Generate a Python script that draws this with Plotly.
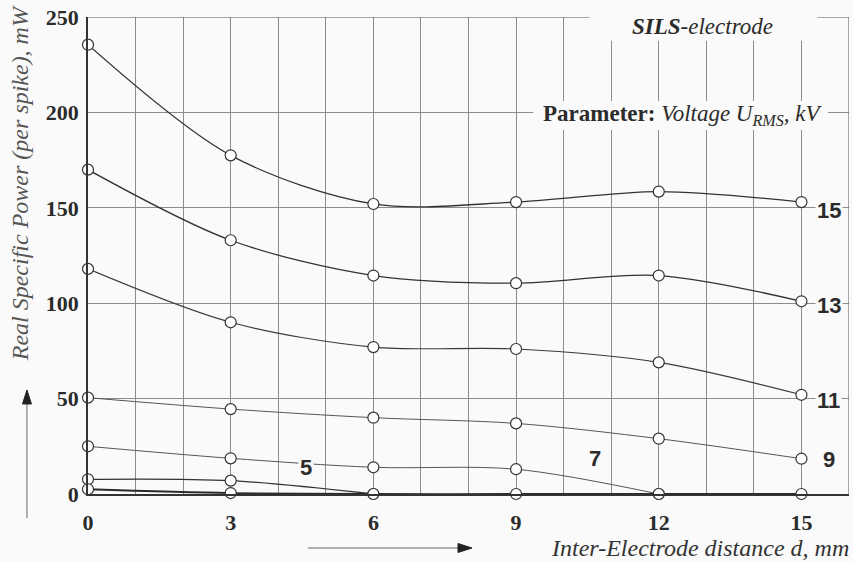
import plotly.graph_objects as go

# Inter-electrode distance d, mm
distance = [0, 3, 6, 9, 12, 15]

# Real specific power per spike (mW) for each RMS voltage (kV)
p_15kv = [235.5, 177.5, 152, 153, 158.5, 153]
p_13kv = [170, 133, 114.5, 110.5, 114.5, 101]
p_11kv = [118, 90, 77, 76, 69, 52]
p_9kv = [50.5, 44.5, 40, 37, 29, 18.5]
p_7kv = [25, 18.7, 14, 13, 0]
p_5kv = [7.7, 7, 0]
p_3kv = [2.5, 0.5, 0, 0, 0, 0]

x_ticks = [0, 3, 6, 9, 12, 15]
y_ticks = [0, 50, 100, 150, 200, 250]

BG = "#fafafa"
INK = "#2b2b2b"
GRID = "#8c8c8c"
SERIF = "Liberation Serif, Times New Roman, serif"
SANS = "Liberation Sans, Arial, sans-serif"

series = [
    ("15", p_15kv, "#333333", 1.3),
    ("13", p_13kv, "#333333", 1.3),
    ("11", p_11kv, "#3a3a3a", 1.2),
    ("9", p_9kv, "#555555", 1.0),
    ("7", p_7kv, "#555555", 1.0),
    ("5", p_5kv, "#333333", 1.3),
    ("3", p_3kv, "#2a2a2a", 1.8),
]

fig = go.Figure()
for name, vals, color, width in series:
    fig.add_trace(go.Scatter(
        x=distance[:len(vals)], y=vals, name=name + " kV",
        mode="lines+markers",
        line=dict(color=color, width=width, shape="spline", smoothing=0.9),
        marker=dict(symbol="circle", size=11, color="white",
                    line=dict(color="#333333", width=1.2)),
        cliponaxis=False, showlegend=False,
    ))

shapes = [
    # top frame, broken where the title sits
    dict(type="line", xref="x", yref="y", x0=0, x1=10.55, y0=250, y1=250,
         line=dict(color="#555555", width=1)),
    dict(type="line", xref="x", yref="y", x0=15.33, x1=16, y0=250, y1=250,
         line=dict(color="#555555", width=1)),
    # right frame
    dict(type="line", xref="x", yref="y", x0=16, x1=16, y0=0, y1=250,
         line=dict(color="#555555", width=1)),
    # clear boxes behind the title and the parameter note
    dict(type="rect", xref="x", yref="y", x0=10.55, x1=15.33, y0=237.5, y1=252,
         fillcolor=BG, line=dict(width=0), layer="above"),
    dict(type="rect", xref="x", yref="y", x0=9.36, x1=15.56, y0=190.8, y1=206,
         fillcolor=BG, line=dict(width=0), layer="above"),
    # direction arrow along the distance axis
    dict(type="line", xref="paper", yref="paper", x0=0.289, x1=0.488,
         y0=-0.1132, y1=-0.1132, line=dict(color="#666666", width=1)),
    dict(type="path", xref="paper", yref="paper",
         path="M 0.4862 -0.1038 L 0.5046 -0.1132 L 0.4862 -0.1226 Z",
         fillcolor="#222222", line=dict(color="#222222", width=1)),
    # direction arrow along the power axis
    dict(type="line", xref="paper", yref="paper", x0=-0.0802, x1=-0.0802,
         y0=-0.0503, y1=0.190, line=dict(color="#666666", width=1)),
    dict(type="path", xref="paper", yref="paper",
         path="M -0.0861 0.1887 L -0.0802 0.2180 L -0.0743 0.1887 Z",
         fillcolor="#222222", line=dict(color="#222222", width=1)),
]

annotations = [
    dict(x=12.92, y=244.8, xref="x", yref="y", showarrow=False,
         text="<b><i>SILS</i></b><i>-electrode</i>",
         font=dict(family=SERIF, size=23, color=INK)),
    dict(x=12.5, y=198.8, xref="x", yref="y", showarrow=False,
         text="<b>Parameter:</b> <i>Voltage U<sub>RMS</sub>, kV</i>",
         font=dict(family=SERIF, size=23, color=INK)),
    # axis titles, placed in paper coordinates outside the plot area
    dict(x=1.002, y=-0.113, xref="paper", yref="paper", showarrow=False,
         xanchor="right", yanchor="middle",
         text="<i>Inter-Electrode distance d, mm</i>",
         font=dict(family=SERIF, size=24, color="#333333")),
    dict(x=-0.089, y=0.652, xref="paper", yref="paper", showarrow=False,
         textangle=-90, xanchor="center", yanchor="middle",
         text="<i>Real Specific Power (per spike), mW</i>",
         font=dict(family=SERIF, size=24, color="#555555")),
]

# voltage labels next to each curve
curve_labels = [
    ("15", 15.57, 148.8), ("13", 15.57, 99), ("11", 15.57, 48.9),
    ("9", 15.57, 18.3), ("7", 10.65, 18.7), ("5", 4.58, 14),
]
for txt, lx, ly in curve_labels:
    annotations.append(dict(
        x=lx, y=ly, xref="x", yref="y", showarrow=False, text="<b>%s</b>" % txt,
        font=dict(family=SANS, size=22, color=INK), bgcolor=BG, borderpad=1,
    ))

fig.update_layout(
    width=853, height=562,
    margin=dict(l=88, r=4, t=17, b=68),
    paper_bgcolor=BG, plot_bgcolor=BG,
    shapes=shapes, annotations=annotations,
    xaxis=dict(
        range=[0, 16], tickmode="array", tickvals=x_ticks,
        ticktext=["<b>%d</b>" % v for v in x_ticks],
        showgrid=True, gridcolor=GRID, gridwidth=1,
        minor=dict(dtick=1, tick0=0, showgrid=True, gridcolor=GRID, gridwidth=1),
        showline=True, linecolor="#333333", linewidth=1.5,
        zeroline=False, ticks="", ticklabelstandoff=8,
        tickfont=dict(family=SERIF, size=22, color=INK),
    ),
    yaxis=dict(
        range=[0, 250], tickmode="array", tickvals=y_ticks,
        ticktext=["<b>%d</b>" % v for v in y_ticks],
        showgrid=True, gridcolor=GRID, gridwidth=1,
        showline=True, linecolor="#333333", linewidth=1.5,
        zeroline=False, ticks="", ticklabelstandoff=3,
        tickfont=dict(family=SERIF, size=22, color=INK),
    ),
)

fig.write_html("out.html")
